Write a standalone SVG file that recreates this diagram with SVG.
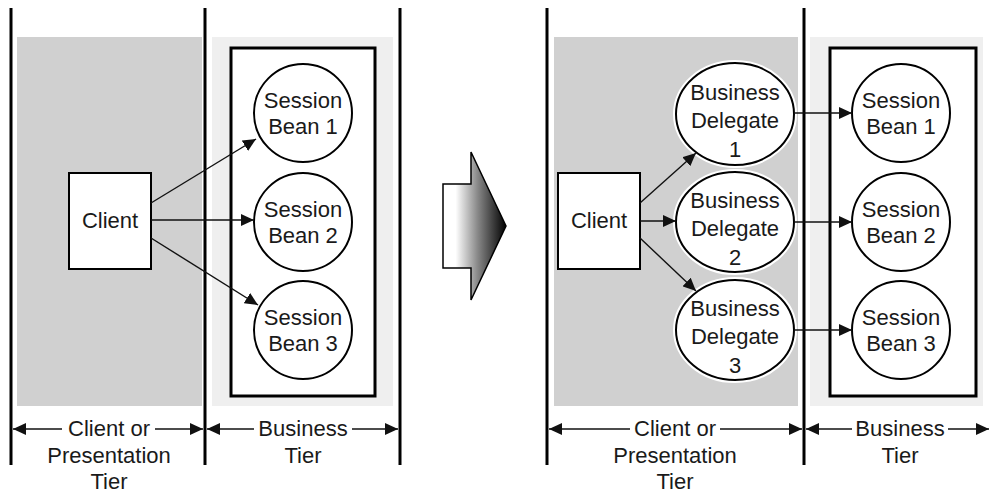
<svg xmlns="http://www.w3.org/2000/svg" width="991" height="496" viewBox="0 0 991 496">
<defs>
<marker id="ah" markerUnits="userSpaceOnUse" markerWidth="14" markerHeight="12" refX="13" refY="6" orient="auto">
<path d="M0,0 L13,6 L0,12 z" fill="#111"/>
</marker>
<linearGradient id="bg" x1="443" y1="0" x2="506" y2="0" gradientUnits="userSpaceOnUse">
<stop offset="0" stop-color="#ffffff"/>
<stop offset="0.2" stop-color="#ffffff"/>
<stop offset="0.55" stop-color="#888888"/>
<stop offset="1" stop-color="#000000"/>
</linearGradient>
</defs>
<style>
text{font-family:"Liberation Sans",Arial,sans-serif;font-size:22px;fill:#1a1a1a;text-anchor:middle}
.tier{stroke:#000;stroke-width:3;fill:none}
.box{fill:#fff;stroke:#000;stroke-width:3}
.client{fill:#fff;stroke:#000;stroke-width:2}
.node{fill:#fff;stroke:#000;stroke-width:2}
.halo{fill:none;stroke:#fff;stroke-width:6}
.conn{stroke:#111;stroke-width:1.4;fill:none;marker-end:url(#ah)}
.dim{stroke:#111;stroke-width:1.4;fill:none}
</style>
<rect width="991" height="496" fill="#fff"/>

<!-- backgrounds -->
<rect x="17" y="37" width="185" height="369" fill="#d0d0d0"/>
<rect x="212" y="37" width="181" height="369" fill="#efefef"/>
<rect x="554" y="37" width="244" height="369" fill="#d0d0d0"/>
<rect x="810" y="37" width="173" height="369" fill="#efefef"/>

<!-- tier lines -->
<g id="tier-lines">
<line class="tier" x1="11" y1="8" x2="11" y2="465"/>
<line class="tier" x1="205" y1="8" x2="205" y2="465"/>
<line class="tier" x1="400" y1="8" x2="400" y2="465"/>
<line class="tier" x1="547" y1="8" x2="547" y2="465"/>
<line class="tier" x1="804" y1="8" x2="804" y2="465"/>
</g>

<!-- business containers -->
<rect id="container-left" class="box" x="231" y="48" width="144" height="348"/>
<rect id="container-right" class="box" x="830" y="48" width="146" height="348"/>

<!-- left panel nodes -->
<g id="client-left"><rect class="client" x="69" y="173" width="82" height="96"/><text x="110" y="228">Client</text></g>
<g id="sb1-left"><circle class="node" cx="303" cy="113" r="49"/><text x="303" y="108">Session</text><text x="303" y="134">Bean 1</text></g>
<g id="sb2-left"><circle class="node" cx="303" cy="222" r="49"/><text x="303" y="217">Session</text><text x="303" y="243">Bean 2</text></g>
<g id="sb3-left"><circle class="node" cx="303" cy="330" r="49"/><text x="303" y="325">Session</text><text x="303" y="351">Bean 3</text></g>

<!-- transition arrow -->
<g id="transition"><polygon points="443,184 471,184 471,152 506,226 471,300 471,268 443,268" fill="url(#bg)" stroke="#000" stroke-width="1.5" stroke-linejoin="miter"/></g>

<!-- right panel nodes -->
<g id="client-right"><rect class="client" x="558" y="173" width="82" height="96"/><text x="599" y="228">Client</text></g>
<g id="bd1"><ellipse class="halo" cx="735" cy="114" rx="59" ry="51"/><ellipse class="node" cx="735" cy="114" rx="59" ry="51"/><text x="735" y="100">Business</text><text x="735" y="128">Delegate</text><text x="735" y="157">1</text></g>
<g id="bd2"><ellipse class="halo" cx="735" cy="222" rx="59" ry="50"/><ellipse class="node" cx="735" cy="222" rx="59" ry="50"/><text x="735" y="208">Business</text><text x="735" y="236">Delegate</text><text x="735" y="265">2</text></g>
<g id="bd3"><ellipse class="halo" cx="735" cy="330" rx="59" ry="50"/><ellipse class="node" cx="735" cy="330" rx="59" ry="50"/><text x="735" y="316">Business</text><text x="735" y="344">Delegate</text><text x="735" y="373">3</text></g>
<g id="sb1-right"><circle class="node" cx="901" cy="113" r="49"/><text x="901" y="108">Session</text><text x="901" y="134">Bean 1</text></g>
<g id="sb2-right"><circle class="node" cx="901" cy="222" r="49"/><text x="901" y="217">Session</text><text x="901" y="243">Bean 2</text></g>
<g id="sb3-right"><circle class="node" cx="901" cy="330" r="49"/><text x="901" y="325">Session</text><text x="901" y="351">Bean 3</text></g>

<!-- connectors -->
<g id="connectors">
<line class="conn" x1="151" y1="203" x2="256" y2="139"/>
<line class="conn" x1="151" y1="220" x2="254" y2="220"/>
<line class="conn" x1="151" y1="238" x2="258" y2="305"/>
<line class="conn" x1="640" y1="203" x2="696" y2="153"/>
<line class="conn" x1="640" y1="221" x2="676" y2="221"/>
<line class="conn" x1="640" y1="238" x2="696" y2="291"/>
<line class="conn" x1="794" y1="113" x2="852" y2="113"/>
<line class="conn" x1="794" y1="222" x2="852" y2="222"/>
<line class="conn" x1="794" y1="330" x2="852" y2="330"/>
</g>

<!-- dimension labels -->
<g id="dimensions">
<line class="dim" x1="62" y1="429" x2="13" y2="429" marker-end="url(#ah)"/>
<line class="dim" x1="155" y1="429" x2="203" y2="429" marker-end="url(#ah)"/>
<line class="dim" x1="254" y1="429" x2="207" y2="429" marker-end="url(#ah)"/>
<line class="dim" x1="352" y1="429" x2="398" y2="429" marker-end="url(#ah)"/>
<line class="dim" x1="630" y1="429" x2="549" y2="429" marker-end="url(#ah)"/>
<line class="dim" x1="720" y1="429" x2="802" y2="429" marker-end="url(#ah)"/>
<line class="dim" x1="852" y1="429" x2="806" y2="429" marker-end="url(#ah)"/>
<line class="dim" x1="948" y1="429" x2="989" y2="429" marker-end="url(#ah)"/>
<text x="109" y="436">Client or</text>
<text x="109" y="463">Presentation</text>
<text x="109" y="489">Tier</text>
<text x="303" y="436">Business</text>
<text x="303" y="463">Tier</text>
<text x="675" y="436">Client or</text>
<text x="675" y="463">Presentation</text>
<text x="675" y="489">Tier</text>
<text x="900" y="436">Business</text>
<text x="900" y="463">Tier</text>
</g>
</svg>
